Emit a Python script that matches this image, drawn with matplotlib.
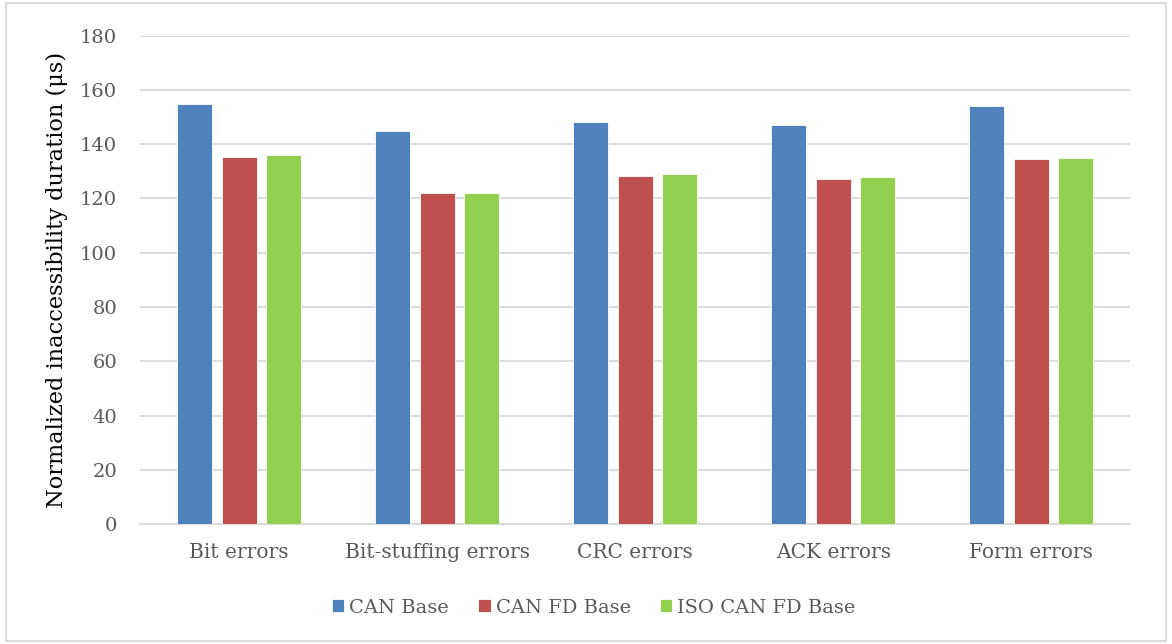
import matplotlib
matplotlib.use('Agg')
import matplotlib.pyplot as plt
from matplotlib.patches import Rectangle
import numpy as np

# ── Data ────────────────────────────────────────────────────
categories = ['Bit errors', 'Bit-stuffing errors', 'CRC errors', 'ACK errors', 'Form errors']
series_names = ['CAN Base', 'CAN FD Base', 'ISO CAN FD Base']
can_base = [155, 145, 148, 147, 154]
can_fd_base = [135.3, 122, 128.3, 127.3, 134.4]
iso_can_fd_base = [136, 122, 128.9, 128, 135]
y_ticks = [0, 20, 40, 60, 80, 100, 120, 140, 160, 180]

# ── Style ───────────────────────────────────────────────────
COLORS = ['#4F81BD', '#C0504D', '#92D050']
TEXT = '#595959'
GRID = '#d9d9d9'
plt.rcParams['font.family'] = ['DejaVu Serif']

fig = plt.figure(figsize=(11.72, 6.44), dpi=100)
ax = fig.add_axes([0.1195, 0.1863, 0.845, 0.7583])

x = np.arange(len(categories))
offset = 0.225
width = 0.177
for i, (vals, name) in enumerate(zip([can_base, can_fd_base, iso_can_fd_base], series_names)):
    ax.bar(x + (i - 1) * offset, vals, width, color=COLORS[i], label=name,
           edgecolor='#ffffff', linewidth=0.6, zorder=3)

ax.set_xlim(-0.5, len(categories) - 0.5)
ax.set_ylim(0, 180)
ax.set_yticks(y_ticks)
ax.set_xticks(x)
ax.set_xticklabels(categories, fontsize=14.5)
ax.tick_params(axis='both', length=0, colors=TEXT, labelsize=14)
ax.tick_params(axis='x', labelsize=14.5, pad=14)
ax.tick_params(axis='y', pad=16.5)
ax.grid(axis='y', color=GRID, linewidth=1.3, zorder=0)
for side in ['top', 'right', 'left']:
    ax.spines[side].set_visible(False)
ax.spines['bottom'].set_color(GRID)
ax.spines['bottom'].set_linewidth(1.3)

ax.set_ylabel('Normalized inaccessibility duration (μs)', fontsize=16.2,
              color='#000000', labelpad=9)

ax.legend(loc='upper center', bbox_to_anchor=(0.458, -0.117), ncol=3,
          frameon=False, fontsize=14, labelcolor=TEXT, handlelength=0.65,
          handleheight=0.65, handletextpad=0.25, columnspacing=1.5)

# light frame round the whole chart
fig.patches.append(Rectangle((0.005, 0.005), 0.99, 0.99, transform=fig.transFigure,
                             fill=False, edgecolor=GRID, linewidth=1.3))

fig.savefig('out.png', dpi=100, facecolor='white')
